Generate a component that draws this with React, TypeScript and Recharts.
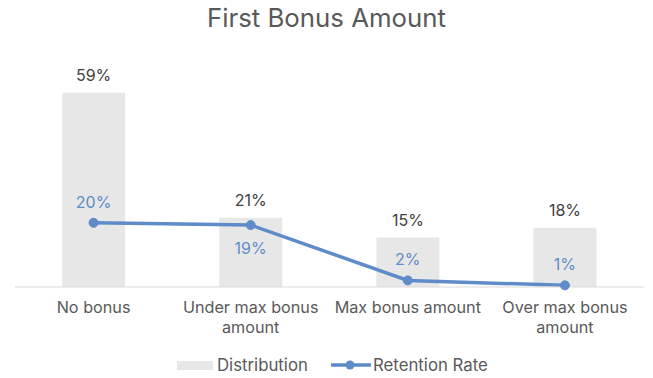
import React from "react";
import { ComposedChart, Bar, Line, XAxis, YAxis, LabelList } from "recharts";

const categories = ["No bonus", "Under max bonus amount", "Max bonus amount", "Over max bonus amount"];
const tickLines = [["No bonus"], ["Under max bonus", "amount"], ["Max bonus amount"], ["Over max bonus", "amount"]];
const distribution = [59, 21, 15, 18];
const retention = [19.5, 18.8, 2.0, 0.5];
const retentionLabelSide = ["above", "below", "above", "above"];

const data = categories.map((c, i) => ({
  name: c,
  idx: i,
  distribution: distribution[i],
  retention: retention[i],
}));

const FONT = "Inter, 'Open Sans', sans-serif";
const TEXT = "#595959";
const BLUE = "#5f8bc8";
const BAR = "#e7e7e7";

const Tick = (props: any) => {
  const { x, y, payload } = props;
  const lines = tickLines[payload.index] || [String(payload.value)];
  return (
    <g>
      {lines.map((l: string, i: number) => (
        <text key={i} x={x} y={y + 26 + i * 20} textAnchor="middle" fill={TEXT} fontSize={16.2} fontFamily={FONT}>
          {l}
        </text>
      ))}
    </g>
  );
};

const RetLabel = (props: any) => {
  const { x, y, value, index } = props;
  const side = retentionLabelSide[index];
  const ty = side === "below" ? y + 29 : y - 15;
  return (
    <text x={x} y={ty} textAnchor="middle" fill={BLUE} fontSize={16} fontFamily={FONT}>
      {Math.round(value)}%
    </text>
  );
};

export default function App() {
  return (
    <div style={{ position: "absolute", left: 0, top: 0, width: 653, height: 378, background: "#fff", fontFamily: FONT }}>
      <div style={{ position: "absolute", left: 0, top: 3, width: 653, textAlign: "center", fontSize: 25.8, color: TEXT, lineHeight: "30px" }}>
        First Bonus Amount
      </div>
      <ComposedChart width={653} height={378} data={data} margin={{ top: 56.5, right: 9.5, bottom: 41, left: 15 }} barCategoryGap="30%">
        <XAxis dataKey="name" tick={<Tick />} tickLine={false} tickSize={0} tickMargin={0} axisLine={{ stroke: "#d9d9d9", strokeWidth: 1 }} height={50} interval={0} />
        <YAxis hide domain={[0, 70]} />
        <Bar dataKey="distribution" fill={BAR} isAnimationActive={false}>
          <LabelList dataKey="distribution" position="top" offset={12} fill="#404040" fontSize={16} fontFamily={FONT} formatter={(v: any) => `${v}%`} />
        </Bar>
        <Line dataKey="retention" stroke={BLUE} strokeWidth={3.5} dot={{ r: 4.5, fill: BLUE, stroke: BLUE, strokeWidth: 1 }} isAnimationActive={false}>
          <LabelList dataKey="retention" content={<RetLabel />} />
        </Line>
      </ComposedChart>
      <div style={{ position: "absolute", top: 355, left: 0, width: 653, height: 20, fontSize: 16.8, color: TEXT }}>
        <div style={{ position: "absolute", left: 177, top: 6, width: 36, height: 9, background: BAR }} />
        <div style={{ position: "absolute", left: 217, top: 0, lineHeight: "20px" }}>Distribution</div>
        <svg style={{ position: "absolute", left: 331, top: 0 }} width={40} height={20}>
          <line x1={0} y1={10} x2={40} y2={10} stroke={BLUE} strokeWidth={3.5} />
          <circle cx={19} cy={10} r={4.5} fill={BLUE} />
        </svg>
        <div style={{ position: "absolute", left: 373, top: 0, lineHeight: "20px" }}>Retention Rate</div>
      </div>
    </div>
  );
}
